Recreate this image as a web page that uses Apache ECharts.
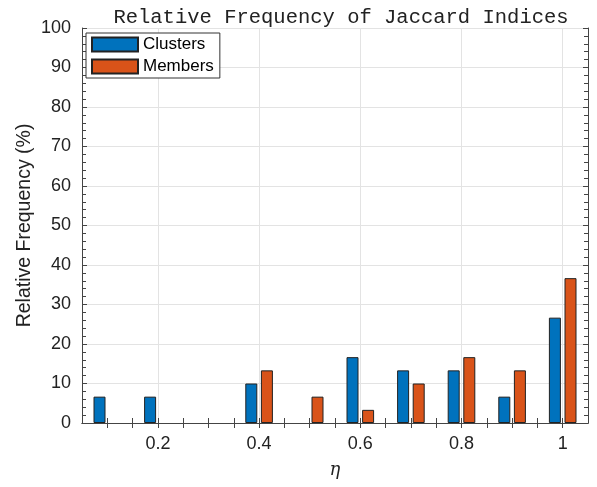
<!DOCTYPE html>
<html lang="en">
<head>
  <meta charset="UTF-8">
  <title>Relative Frequency of Jaccard Indices</title>
  <script src="https://cdn.jsdelivr.net/npm/echarts@6/dist/echarts.min.js"></script>
  <style>
    html, body { margin: 0; padding: 0; background: #fff; }
  </style>
</head>
<body>
<div id="main" style="width:597px;height:487px;"></div>
</body>
</html>
<script>
  // bin centres (eta) and the two series, in percent
  const etaBins = [0.1, 0.2, 0.3, 0.4, 0.5, 0.6, 0.7, 0.8, 0.9, 1.0];
  const clusters = [6.67, 6.67, 0, 10, 0, 16.67, 13.33, 13.33, 6.67, 26.67];
  const members = [0, 0, 0, 13.33, 6.67, 3.33, 10, 16.67, 13.33, 36.67];
  // axis ticks / labels
  const xLabelVals = [0.2, 0.4, 0.6, 0.8, 1];
  const xTickVals = [0.1, 0.15, 0.2, 0.25, 0.3, 0.35, 0.4, 0.45, 0.5, 0.55, 0.6, 0.65, 0.7, 0.75, 0.8, 0.85, 0.9, 0.95, 1.0];

  window.onload = function () {
    const axisCol = '#444';
    const gridCol = '#e3e3e3';
    // empty bins are not drawn
    const pairs = (ys) => etaBins.map((x, i) => ys[i] === 0 ? [x, '-'] : [x, ys[i]]);

    let option = {
      animation: false,
      textStyle: { fontFamily: 'Liberation Sans' },
      title: {
        text: 'Relative Frequency of Jaccard Indices',
        left: 336,
        textAlign: 'center',
        top: 2,
        textStyle: { fontFamily: 'Liberation Mono', fontSize: 20.5, fontWeight: 'normal', color: '#222' }
      },
      legend: {
        orient: 'vertical',
        left: 86,
        top: 33,
        itemWidth: 46,
        itemHeight: 14,
        itemGap: 5,
        padding: [3, 6, 3, 5],
        icon: 'rect',
        borderColor: '#333',
        borderWidth: 1,
        backgroundColor: '#fff',
        textStyle: { fontSize: 17, color: '#000' },
        data: ['Clusters', 'Members']
      },
      grid: { left: 82, right: 9, top: 28, bottom: 64, containLabel: false },
      xAxis: [
        {
          type: 'value', min: 0.05, max: 1.05, position: 'bottom',
          axisLine: { lineStyle: { color: axisCol } },
          axisTick: { inside: true, length: 5, customValues: xTickVals, lineStyle: { color: axisCol } },
          axisLabel: { customValues: xLabelVals, fontSize: 18, color: '#222', margin: 12,
            formatter: v => (Math.round(v * 10) / 10).toString() },
          splitLine: { show: false },
          name: 'η', nameLocation: 'middle', nameGap: 38,
          nameTextStyle: { fontFamily: 'DejaVu Serif', fontStyle: 'italic', fontSize: 18, color: '#222' }
        },
        {
          type: 'value', min: 0.05, max: 1.05, position: 'top',
          axisLine: { lineStyle: { color: axisCol } },
          axisTick: { inside: true, length: 5, customValues: xTickVals, lineStyle: { color: axisCol } },
          axisLabel: { show: false },
          splitLine: { show: false }
        },
        {
          // only for the vertical grid lines
          type: 'value', min: 0.05, max: 1.05,
          axisLine: { show: false },
          axisTick: { show: false, customValues: xLabelVals },
          axisLabel: { show: false },
          splitLine: { show: true, lineStyle: { color: gridCol } }
        }
      ],
      yAxis: [
        {
          type: 'value', min: 0, max: 100, interval: 10, position: 'left',
          axisLine: { show: true, lineStyle: { color: axisCol } },
          axisTick: { show: true, inside: true, length: 5, lineStyle: { color: axisCol } },
          minorTick: { show: true, splitNumber: 5, length: 4, lineStyle: { color: axisCol } },
          axisLabel: { fontSize: 18, color: '#222', margin: 11 },
          splitLine: { show: true, lineStyle: { color: gridCol } },
          name: 'Relative Frequency (%)', nameLocation: 'middle', nameGap: 47,
          nameMoveOverlap: false,
          nameTextStyle: { fontSize: 19.5, color: '#222' }
        },
        {
          type: 'value', min: 0, max: 100, interval: 10, position: 'right',
          axisLine: { show: true, lineStyle: { color: axisCol } },
          axisTick: { show: true, inside: true, length: 5, lineStyle: { color: axisCol } },
          minorTick: { show: true, splitNumber: 5, length: 4, lineStyle: { color: axisCol } },
          axisLabel: { show: false },
          splitLine: { show: false }
        }
      ],
      series: [
        {
          name: 'Clusters',
          type: 'bar',
          data: pairs(clusters),
          barWidth: 12,
          barGap: '30%',
          itemStyle: { color: '#0072BD', borderColor: '#222', borderWidth: 1 }
        },
        {
          name: 'Members',
          type: 'bar',
          data: pairs(members),
          barWidth: 12,
          barGap: '30%',
          itemStyle: { color: '#D95319', borderColor: '#222', borderWidth: 1 }
        }
      ]
    };
    let myChart = echarts.init(document.getElementById('main'));
    myChart.setOption(option);
  }
</script>
